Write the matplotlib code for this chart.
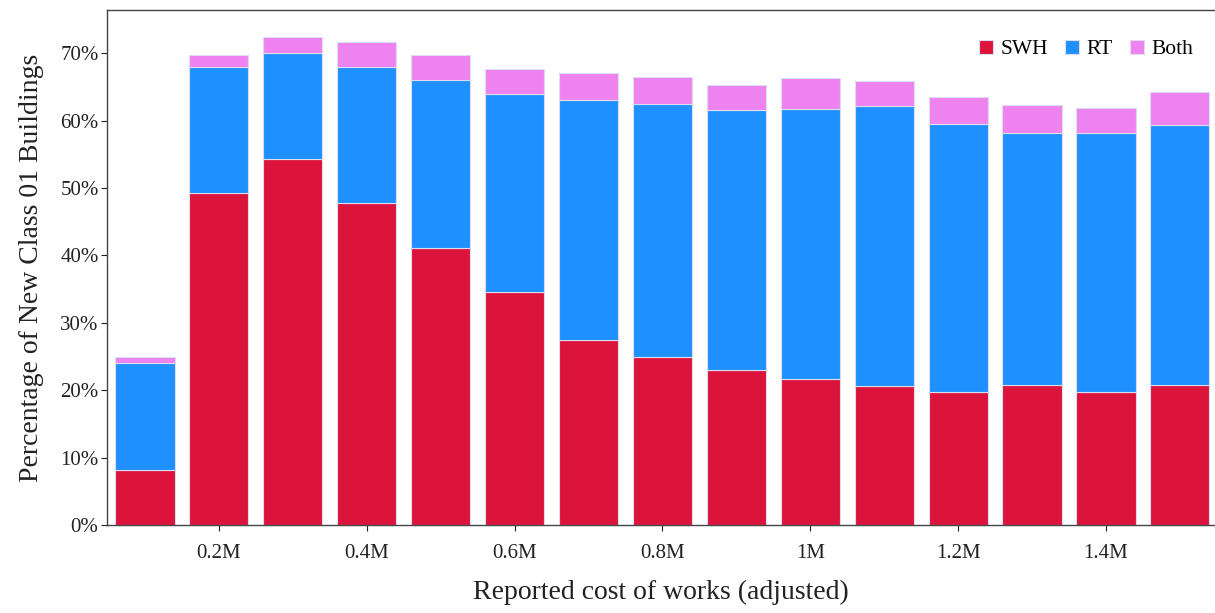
import matplotlib.pyplot as plt
from matplotlib.ticker import FuncFormatter

# cost bins (millions) and shares (%) of new class 01 buildings
cost_bins = [0.1, 0.2, 0.3, 0.4, 0.5, 0.6, 0.7, 0.8, 0.9, 1.0, 1.1, 1.2, 1.3, 1.4, 1.5]
swh = [8.1, 49.2, 54.3, 47.8, 41.1, 34.5, 27.4, 24.9, 23.0, 21.7, 20.6, 19.7, 20.8, 19.7, 20.8]
rt = [16.0, 18.7, 15.7, 20.2, 24.9, 29.4, 35.7, 37.5, 38.5, 40.0, 41.5, 39.8, 37.4, 38.5, 38.6]
both = [0.8, 1.9, 2.4, 3.6, 3.8, 3.8, 3.9, 4.0, 3.8, 4.6, 3.8, 4.0, 4.1, 3.7, 4.9]

tick_vals = [0.2, 0.4, 0.6, 0.8, 1.0, 1.2, 1.4]
tick_labels = ["0.2M", "0.4M", "0.6M", "0.8M", "1M", "1.2M", "1.4M"]

plt.rcParams['font.family'] = ['Liberation Serif', 'DejaVu Serif']

fig = plt.figure(figsize=(12.15, 6.13), dpi=100)
ax = fig.add_axes([0.088, 0.1436, 0.912, 0.840])

edge = "#dcdcf5"
w = 0.08
ax.bar(cost_bins, swh, width=w, color="crimson", edgecolor=edge, linewidth=0.8, label="SWH")
ax.bar(cost_bins, rt, width=w, bottom=swh, color="dodgerblue", edgecolor=edge, linewidth=0.8, label="RT")
bottom2 = [a + b for a, b in zip(swh, rt)]
ax.bar(cost_bins, both, width=w, bottom=bottom2, color="violet", edgecolor=edge, linewidth=0.8, label="Both")

ax.set_xlim(0.0485, 1.5475)
ax.set_ylim(0, 76.4)
ax.set_xticks(tick_vals)
ax.set_xticklabels(tick_labels)
ax.set_yticks(range(0, 71, 10))
ax.yaxis.set_major_formatter(FuncFormatter(lambda v, p: f"{int(v)}%"))
ax.tick_params(axis='both', labelsize=15, colors="#222222", length=4, width=0.8, direction='out')
ax.tick_params(axis='x', pad=10)
ax.tick_params(axis='y', pad=2)

for s in ax.spines.values():
    s.set_color("#444444")
    s.set_linewidth(1.0)
ax.spines['right'].set_visible(False)

ax.set_ylabel("Percentage of New Class 01 Buildings", fontsize=20, color="#222222", labelpad=12)
ax.set_xlabel("Reported cost of works (adjusted)", fontsize=20, color="#222222", labelpad=12)

leg = ax.legend(loc="upper right", frameon=False, fontsize=15.5, ncol=3, handlelength=0.65,
                handleheight=0.65, handletextpad=0.35, columnspacing=0.8,
                bbox_to_anchor=(0.998, 0.98))

fig.savefig("out.png", dpi=100)
